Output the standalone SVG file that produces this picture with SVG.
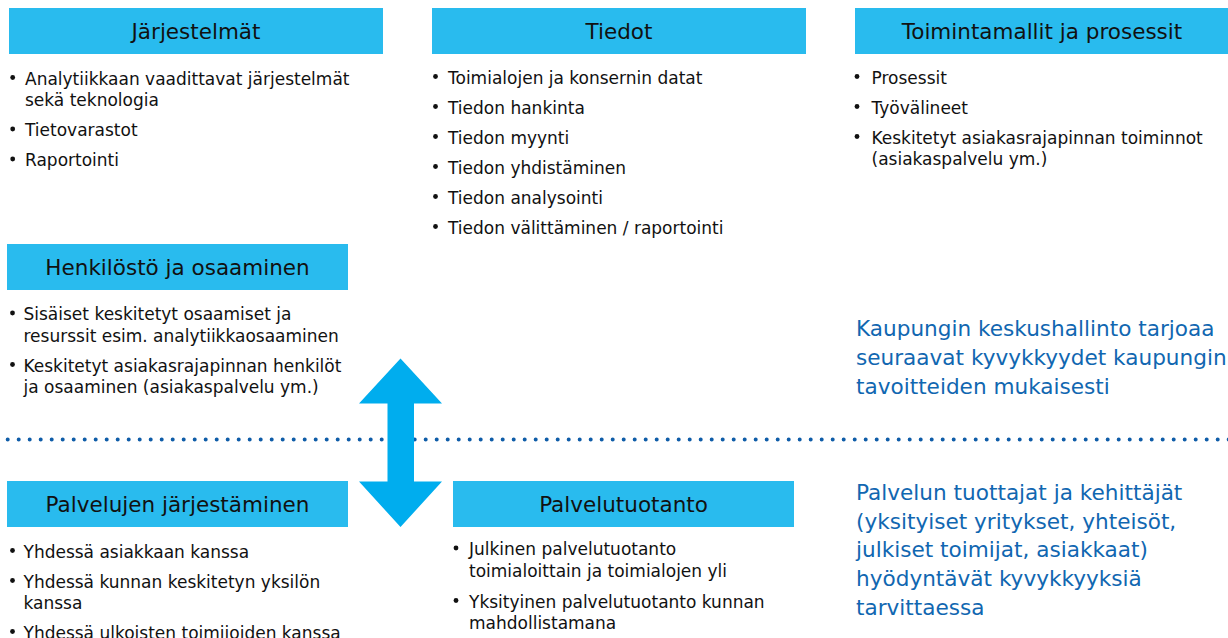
<svg xmlns="http://www.w3.org/2000/svg" width="1228" height="638" viewBox="0 0 1228 638">
  <style>
    .hdr { fill: #29BBEE; }
    .ht { font-family: "DejaVu Sans", "Liberation Sans", sans-serif; font-size: 21.5px; fill: #111; text-anchor: middle; }
    .bt { font-family: "DejaVu Sans", "Liberation Sans", sans-serif; font-size: 17px; fill: #111; }
    .bl { fill: #111; }
    .note { font-family: "DejaVu Sans", "Liberation Sans", sans-serif; font-size: 21.6px; fill: #1167B1; }
  </style>
  <rect width="1228" height="638" fill="#ffffff"/>

  <!-- separator between the two levels -->
  <line x1="7.7" y1="439.5" x2="1232" y2="439.5" stroke="#0E5CA8" stroke-width="4" stroke-linecap="round" stroke-dasharray="0 11"/>

  <g id="jarjestelmat">
    <rect class="hdr" x="9" y="8" width="374" height="46"/>
    <text class="ht" x="196" y="38.5">Järjestelmät</text>
    <circle class="bl" cx="12.7" cy="77.5" r="2.4"/>
    <text class="bt" x="25" y="84.5">Analytiikkaan vaadittavat järjestelmät</text>
    <text class="bt" x="25" y="105.5">sekä teknologia</text>
    <circle class="bl" cx="12.7" cy="129" r="2.4"/>
    <text class="bt" x="25" y="136">Tietovarastot</text>
    <circle class="bl" cx="12.7" cy="159" r="2.4"/>
    <text class="bt" x="25" y="166">Raportointi</text>
  </g>

  <g id="tiedot">
    <rect class="hdr" x="432" y="8" width="374" height="46"/>
    <text class="ht" x="619" y="38.5">Tiedot</text>
    <circle class="bl" cx="435.5" cy="76.5" r="2.4"/>
    <text class="bt" x="448" y="83.5">Toimialojen ja konsernin datat</text>
    <circle class="bl" cx="435.5" cy="106.5" r="2.4"/>
    <text class="bt" x="448" y="113.5">Tiedon hankinta</text>
    <circle class="bl" cx="435.5" cy="136.5" r="2.4"/>
    <text class="bt" x="448" y="143.5">Tiedon myynti</text>
    <circle class="bl" cx="435.5" cy="166.5" r="2.4"/>
    <text class="bt" x="448" y="173.5">Tiedon yhdistäminen</text>
    <circle class="bl" cx="435.5" cy="196.5" r="2.4"/>
    <text class="bt" x="448" y="203.5">Tiedon analysointi</text>
    <circle class="bl" cx="435.5" cy="226.5" r="2.4"/>
    <text class="bt" x="448" y="233.5">Tiedon välittäminen / raportointi</text>
  </g>

  <g id="toimintamallit">
    <rect class="hdr" x="855" y="8" width="374" height="46"/>
    <text class="ht" x="1042" y="38.5">Toimintamallit ja prosessit</text>
    <circle class="bl" cx="857" cy="76.5" r="2.4"/>
    <text class="bt" x="871.5" y="83.5">Prosessit</text>
    <circle class="bl" cx="857" cy="106.5" r="2.4"/>
    <text class="bt" x="871.5" y="113.5">Työvälineet</text>
    <circle class="bl" cx="857" cy="136.5" r="2.4"/>
    <text class="bt" x="871.5" y="143.5">Keskitetyt asiakasrajapinnan toiminnot</text>
    <text class="bt" x="871.5" y="165">(asiakaspalvelu ym.)</text>
  </g>

  <g id="henkilosto">
    <rect class="hdr" x="7" y="244" width="341" height="46"/>
    <text class="ht" x="177.5" y="275">Henkilöstö ja osaaminen</text>
    <circle class="bl" cx="12.5" cy="313" r="2.4"/>
    <text class="bt" x="23.5" y="320">Sisäiset keskitetyt osaamiset ja</text>
    <text class="bt" x="23.5" y="341.5">resurssit esim. analytiikkaosaaminen</text>
    <circle class="bl" cx="12.5" cy="364.5" r="2.4"/>
    <text class="bt" x="23.5" y="371.5">Keskitetyt asiakasrajapinnan henkilöt</text>
    <text class="bt" x="23.5" y="393">ja osaaminen (asiakaspalvelu ym.)</text>
  </g>

  <g id="keskushallinto">
    <text class="note" x="856" y="336">Kaupungin keskushallinto tarjoaa</text>
    <text class="note" x="856" y="365">seuraavat kyvykkyydet kaupungin</text>
    <text class="note" x="856" y="393.5">tavoitteiden mukaisesti</text>
  </g>

  <g id="jarjestaminen">
    <rect class="hdr" x="7" y="481" width="341" height="46"/>
    <text class="ht" x="177.5" y="511.5">Palvelujen järjestäminen</text>
    <circle class="bl" cx="12.5" cy="550.5" r="2.4"/>
    <text class="bt" x="23.5" y="557.5">Yhdessä asiakkaan kanssa</text>
    <circle class="bl" cx="12.5" cy="580.5" r="2.4"/>
    <text class="bt" x="23.5" y="587.5">Yhdessä kunnan keskitetyn yksilön</text>
    <text class="bt" x="23.5" y="608.5">kanssa</text>
    <circle class="bl" cx="12.5" cy="631.5" r="2.4"/>
    <text class="bt" x="23.5" y="638.5">Yhdessä ulkoisten toimijoiden kanssa</text>
  </g>

  <g id="palvelutuotanto">
    <rect class="hdr" x="453" y="481" width="341" height="46"/>
    <text class="ht" x="623.5" y="511.5">Palvelutuotanto</text>
    <circle class="bl" cx="456" cy="548" r="2.4"/>
    <text class="bt" x="469" y="555">Julkinen palvelutuotanto</text>
    <text class="bt" x="469" y="576.5">toimialoittain ja toimialojen yli</text>
    <circle class="bl" cx="456" cy="600.5" r="2.4"/>
    <text class="bt" x="469" y="607.5">Yksityinen palvelutuotanto kunnan</text>
    <text class="bt" x="469" y="628.5">mahdollistamana</text>
  </g>

  <g id="tuottajat">
    <text class="note" x="856" y="500">Palvelun tuottajat ja kehittäjät</text>
    <text class="note" x="856" y="528.5">(yksityiset yritykset, yhteisöt,</text>
    <text class="note" x="856" y="557">julkiset toimijat, asiakkaat)</text>
    <text class="note" x="856" y="586">hyödyntävät kyvykkyyksiä</text>
    <text class="note" x="856" y="614.5">tarvittaessa</text>
  </g>

  <g id="connectors">
    <polygon fill="#00ADEE" points="400.5,358.5 442,403.5 414,403.5 414,481.5 442,481.5 400.5,527 359,481.5 387.5,481.5 387.5,403.5 359,403.5"/>
  </g>
</svg>
